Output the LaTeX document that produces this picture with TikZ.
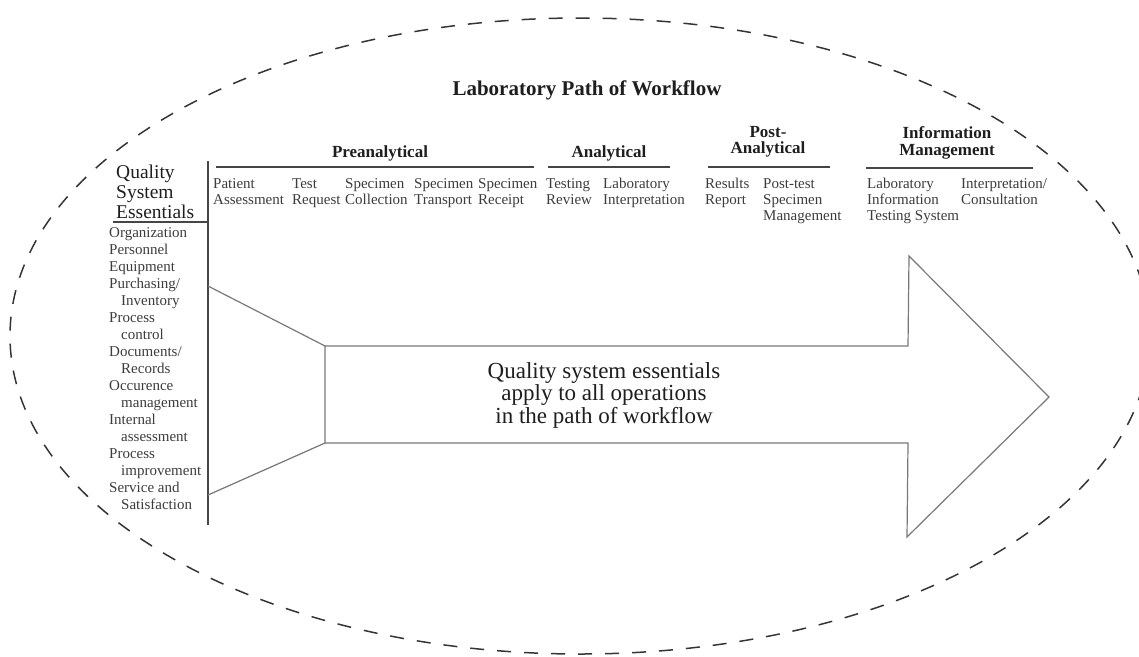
\documentclass[tikz,border=0pt]{standalone}
\usepackage{fontspec}
\setmainfont{Liberation Serif}
\usepackage{tikz}
\definecolor{ink}{RGB}{30, 30, 30}
\definecolor{softink}{RGB}{60, 60, 60}
\definecolor{rulegray}{RGB}{70, 70, 70}
\definecolor{arrowgray}{RGB}{120, 120, 120}

\begin{document}
\begin{tikzpicture}[x=1pt, y=-1pt, text=ink,
    item/.style={anchor=north west, inner sep=0pt, align=left, text=softink, font=\fontsize{15}{16}\selectfont},
    phase/.style={inner sep=0pt, align=center, font=\fontsize{17}{16.5}\selectfont\bfseries},
    phaserule/.style={draw=rulegray, line width=1.5pt},
    outline/.style={draw=arrowgray, line width=1.2pt, line join=miter}]
  \useasboundingbox (0, 0) rectangle (1139, 656);
  \clip (0, 0) rectangle (1139, 656);

  \draw[ink!90, line width=1.5pt, dash pattern=on 14pt off 13pt]
    (580, 336) ellipse [x radius=570pt, y radius=318pt];

  \node[inner sep=0pt, font=\fontsize{21}{24}\selectfont\bfseries] (title) at (587, 90)
    {Laboratory Path of Workflow};

  % phases of the workflow
  \node[phase] (pre) at (380, 153) {Preanalytical};
  \node[phase] (ana) at (609, 153) {Analytical};
  \node[phase] (post) at (768, 142) {Post-\\Analytical};
  \node[phase] (info) at (947, 143) {Information\\Management};
  \draw[phaserule] (216, 167) -- (534, 167);
  \draw[phaserule] (548, 167) -- (670, 167);
  \draw[phaserule] (708, 167) -- (830, 167);
  \draw[phaserule] (866, 168) -- (1033, 168);

  \foreach \name/\x/\txt in {patient/213/{Patient\\Assessment},
      request/292/{Test\\Request}, collect/345/{Specimen\\Collection},
      transport/414/{Specimen\\Transport}, receipt/478/{Specimen\\Receipt},
      review/546/{Testing\\Review}, interp/603/{Laboratory\\Interpretation},
      report/705/{Results\\Report}, postmgmt/763/{Post-test\\Specimen\\Management},
      lis/867/{Laboratory\\Information\\Testing System},
      consult/961/{Interpretation/\\Consultation}} {
    \node[item] (\name) at (\x, 178) {\txt};
  }

  % quality system essentials column
  \node[anchor=north west, inner sep=0pt, align=left, font=\fontsize{19.5}{20}\selectfont]
    (qse) at (116, 165) {Quality\\System\\Essentials};
  \draw[draw=rulegray, line width=1.5pt] (113, 222) -- (208, 222);
  \draw[draw=rulegray, line width=1.3pt] (208, 161) -- (208, 525);
  \node[item, font=\fontsize{15}{17}\selectfont] (essentials) at (109, 227)
    {Organization\\Personnel\\Equipment\\Purchasing/\\\hspace*{12pt}Inventory\\
     Process\\\hspace*{12pt}control\\Documents/\\\hspace*{12pt}Records\\
     Occurence\\\hspace*{12pt}management\\Internal\\\hspace*{12pt}assessment\\
     Process\\\hspace*{12pt}improvement\\Service and\\\hspace*{12pt}Satisfaction};

  % funnel and arrow
  \coordinate (funT) at (208, 286);
  \coordinate (funB) at (208, 495);
  \coordinate (neckT) at (325, 346);
  \coordinate (neckB) at (325, 443);
  \coordinate (shaftT) at (908, 346);
  \coordinate (shaftB) at (908, 443);
  \coordinate (headT) at (909, 256);
  \coordinate (headB) at (907, 537);
  \coordinate (tip) at (1049, 397);
  \draw[outline] (funT) -- (neckT) -- (neckB) -- (funB);
  \draw[outline] (neckT) -- (shaftT) -- (headT) -- (tip) -- (headB) -- (shaftB) -- (neckB);

  \node[inner sep=0pt, align=center, font=\fontsize{23}{22.5}\selectfont] (apply) at (604, 395)
    {Quality system essentials\\apply to all operations\\in the path of workflow};
\end{tikzpicture}
\end{document}
